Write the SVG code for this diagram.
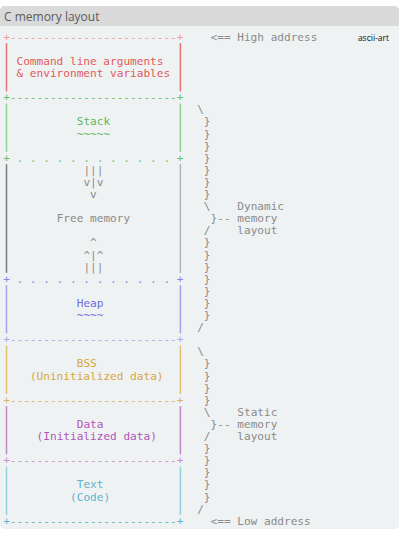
<svg xmlns="http://www.w3.org/2000/svg" width="400" height="536" viewBox="0 0 400 536">
<style>
.m{font-family:"DejaVu Sans Mono","Liberation Mono",monospace;font-size:11.1px}
.g{fill:#8a8a8a}
.bar{stroke-width:1.5;fill:none}
.red{fill:#e05a5a}.redd{fill:#ef9c9c}
.grn{fill:#5cb85c}.grnd{fill:#6cc06c}
.blu{fill:#6e6ee0}.blud{fill:#8686e6}.lav{fill:#aaaaea}
.gld{fill:#d6a640}.gldd{fill:#d9b25e}
.pur{fill:#b055b8}.purd{fill:#c98fce}
.cya{fill:#5bb6cc}.cyad{fill:#62b2c8}
</style>
<rect x="0" y="0" width="400" height="536" fill="#ffffff"/>
<path d="M0 11 Q0 6 5 6 H394 Q399 6 399 11 V524 Q399 529 394 529 H5 Q0 529 0 524 Z" fill="#eff2f3"/>
<path d="M0 11 Q0 6 5 6 H394 Q399 6 399 11 V26 H0 Z" fill="#dadada"/>
<text x="4" y="21" font-family="'Open Sans','Noto Sans',sans-serif" font-size="12" fill="#5a5a5a">C memory layout</text>
<text x="389" y="41" font-family="'Open Sans','Noto Sans',sans-serif" font-size="8.5" fill="#111" text-anchor="end">ascii-art</text>

<g id="cmdline" class="m">
<text x="3.15" y="40.7" class="redd">+-------------------------+</text>
<line class="bar" x1="6.5" y1="43" x2="6.5" y2="91.5" stroke="#e57373"/>
<line class="bar" x1="180.4" y1="43" x2="180.4" y2="91.5" stroke="#e57373"/>
<text x="16.53" y="64.9" class="red">Command line arguments</text>
<text x="16.53" y="77" class="red">&amp; environment variables</text>
</g>

<g id="stack" class="m">
<text x="3.15" y="101.2" class="grnd">+-------------------------+</text>
<line class="bar" x1="6.5" y1="103.6" x2="6.5" y2="151.9" stroke="#8fd18f"/>
<line class="bar" x1="180.4" y1="103.6" x2="180.4" y2="151.9" stroke="#8fd18f"/>
<text x="76.74" y="125.4" class="grn">Stack</text>
<text x="76.74" y="137.5" class="grn">~~~~~</text>
<text x="3.15" y="161.7" class="grnd" xml:space="preserve">+ . . . . . . . . . . . . +</text>
</g>

<g id="free" class="m">
<line class="bar" x1="6.5" y1="164.1" x2="6.5" y2="272.9" stroke="#7a7a7a"/>
<line class="bar" x1="180.4" y1="164.1" x2="180.4" y2="272.9" stroke="#b4b4b4"/>
<text x="83.43" y="173.8" class="g">|||</text>
<text x="83.43" y="185.9" class="g">v|v</text>
<text x="90.12" y="198" class="g">v</text>
<text x="56.67" y="222.2" class="g">Free memory</text>
<text x="90.12" y="246.4" class="g">^</text>
<text x="83.43" y="258.5" class="g">^|^</text>
<text x="83.43" y="270.6" class="g">|||</text>
</g>

<g id="heap" class="m">
<text x="3.15" y="282.7" class="blud" xml:space="preserve">+ . . . . . . . . . . . . +</text>
<line class="bar" x1="6.5" y1="285.1" x2="6.5" y2="333.4" stroke="#a2a2f0"/>
<line class="bar" x1="180.4" y1="285.1" x2="180.4" y2="333.4" stroke="#a2a2f0"/>
<text x="76.74" y="306.9" class="blu">Heap</text>
<text x="76.74" y="319" class="blu">~~~~</text>
<text x="3.15" y="343.2" class="lav">+-------------------------+</text>
</g>

<g id="bss" class="m">
<line class="bar" x1="6.5" y1="345.6" x2="6.5" y2="393.9" stroke="#e0c070"/>
<line class="bar" x1="180.4" y1="345.6" x2="180.4" y2="393.9" stroke="#e0c070"/>
<text x="76.74" y="367.4" class="gld">BSS</text>
<text x="29.91" y="379.5" class="gld">(Uninitialized data)</text>
<text x="3.15" y="403.7" class="gldd">+-------------------------+</text>
</g>

<g id="data" class="m">
<line class="bar" x1="6.5" y1="406.1" x2="6.5" y2="454.4" stroke="#c287c8"/>
<line class="bar" x1="180.4" y1="406.1" x2="180.4" y2="454.4" stroke="#c287c8"/>
<text x="76.74" y="427.9" class="pur">Data</text>
<text x="36.6" y="440" class="pur">(Initialized data)</text>
<text x="3.15" y="464.2" class="purd">+-------------------------+</text>
</g>

<g id="textseg" class="m">
<line class="bar" x1="6.5" y1="466.6" x2="6.5" y2="514.9" stroke="#92d0dc"/>
<line class="bar" x1="180.4" y1="466.6" x2="180.4" y2="514.9" stroke="#92d0dc"/>
<text x="76.74" y="488.4" class="cya">Text</text>
<text x="70.05" y="500.5" class="cya">(Code)</text>
<text x="3.15" y="524.7" class="cyad">+-------------------------+</text>
</g>

<g id="connectors" class="m g">
<text x="210.54" y="40.7">&lt;== High address</text>
<text x="210.54" y="524.7">&lt;== Low address</text>
<text x="197.16" y="113.3">\</text>
<text x="203.85" y="125.4">}</text>
<text x="203.85" y="137.5">}</text>
<text x="203.85" y="149.6">}</text>
<text x="203.85" y="161.7">}</text>
<text x="203.85" y="173.8">}</text>
<text x="203.85" y="185.9">}</text>
<text x="203.85" y="198">}</text>
<text x="203.85" y="210.1">\</text>
<text x="210.54" y="222.2">}--</text>
<text x="203.85" y="234.3">/</text>
<text x="203.85" y="246.4">}</text>
<text x="203.85" y="258.5">}</text>
<text x="203.85" y="270.6">}</text>
<text x="203.85" y="282.7">}</text>
<text x="203.85" y="294.8">}</text>
<text x="203.85" y="306.9">}</text>
<text x="203.85" y="319">}</text>
<text x="197.16" y="331.1">/</text>
<text x="197.16" y="355.3">\</text>
<text x="203.85" y="367.4">}</text>
<text x="203.85" y="379.5">}</text>
<text x="203.85" y="391.6">}</text>
<text x="203.85" y="403.7">}</text>
<text x="203.85" y="415.8">\</text>
<text x="210.54" y="427.9">}--</text>
<text x="203.85" y="440">/</text>
<text x="203.85" y="452.1">}</text>
<text x="203.85" y="464.2">}</text>
<text x="203.85" y="476.3">}</text>
<text x="203.85" y="488.4">}</text>
<text x="203.85" y="500.5">}</text>
<text x="197.16" y="512.6">/</text>
</g>
<g id="labels" class="m g">
<text x="237.3" y="210.1">Dynamic</text>
<text x="237.3" y="222.2">memory</text>
<text x="237.3" y="234.3">layout</text>
<text x="237.3" y="415.8">Static</text>
<text x="237.3" y="427.9">memory</text>
<text x="237.3" y="440">layout</text>
</g>
</svg>
